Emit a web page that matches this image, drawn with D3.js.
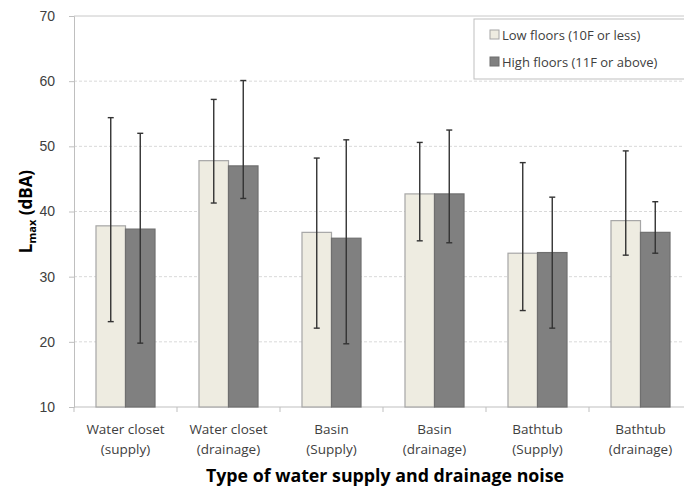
<!DOCTYPE html>
<meta charset="utf-8">
<script src="https://d3js.org/d3.v7.min.js"></script>
<title>Lmax by floor group</title>
<style>
body { margin: 0; background: #fff; font-family: "Open Sans", sans-serif; }
.tick text { fill: #404040; font-size: 13px; }
.grid line { stroke: #d9d9d9; stroke-dasharray: 3,2; }
</style>
<body>
<svg id="chart" width="684" height="488"></svg>
<script>

var categories = [
  ["Water closet", "(supply)"],
  ["Water closet", "(drainage)"],
  ["Basin", "(Supply)"],
  ["Basin", "(drainage)"],
  ["Bathtub", "(Supply)"],
  ["Bathtub", "(drainage)"]
];
var series = ["Low floors (10F or less)", "High floors (11F or above)"];
var lowMean = [37.8, 47.8, 36.8, 42.7, 33.6, 38.6];
var lowErrTop = [54.4, 57.2, 48.2, 50.6, 47.5, 49.3];
var lowErrBot = [23.1, 41.3, 22.1, 35.5, 24.8, 33.3];
var highMean = [37.3, 47.0, 35.9, 42.7, 33.7, 36.8];
var highErrTop = [52.0, 60.1, 51.0, 52.5, 42.2, 41.5];
var highErrBot = [19.8, 42.0, 19.7, 35.2, 22.1, 33.6];
var yTicks = [10, 20, 30, 40, 50, 60, 70];

var fills = ["#eeece1", "#808080"],
    strokes = ["#a6a6a6", "#6f6f6f"];

var svg = d3.select("#chart"),
    plotL = 74, plotR = 692, plotT = 16, plotB = 407;

var idx = d3.range(categories.length);
var x = d3.scaleBand().domain(idx).range([plotL, plotR]).padding(0);
var x1 = d3.scaleBand().domain([0, 1]).range([0, x.bandwidth()])
    .paddingInner(0).paddingOuter(0.745);
var y = d3.scaleLinear().domain([10, 70]).range([plotB, plotT]);

// gridlines
svg.append("g").attr("class", "grid")
  .selectAll("line").data(yTicks.filter(function(d) { return d > 10 && d < 70; }))
  .enter().append("line")
    .attr("x1", plotL).attr("x2", 684)
    .attr("y1", function(d) { return y(d); })
    .attr("y2", function(d) { return y(d); });

// top border
svg.append("line")
  .attr("x1", plotL).attr("x2", 684)
  .attr("y1", y(70)).attr("y2", y(70))
  .attr("stroke", "#c8c8c8");

// y axis
var yAxis = svg.append("g")
  .attr("transform", "translate(" + plotL + ",0)")
  .call(d3.axisLeft(y).tickValues(yTicks).tickSize(5).tickPadding(14));
yAxis.select(".domain").attr("stroke", "#bfbfbf");
yAxis.selectAll(".tick line").attr("stroke", "#bfbfbf");
yAxis.selectAll(".tick text").style("font-size", "14px");

// x axis
var xAxis = svg.append("g")
  .attr("transform", "translate(0," + plotB + ")");
xAxis.append("line")
  .attr("x1", plotL).attr("x2", 684)
  .attr("stroke", "#bfbfbf");
xAxis.selectAll("line.tk").data(d3.range(categories.length + 1))
  .enter().append("line")
    .attr("class", "tk")
    .attr("x1", function(d) { return plotL + d * x.step(); })
    .attr("x2", function(d) { return plotL + d * x.step(); })
    .attr("y1", 0).attr("y2", 5)
    .attr("stroke", "#bfbfbf");

var labels = xAxis.selectAll("text.cat").data(idx)
  .enter().append("text")
    .attr("class", "cat")
    .attr("text-anchor", "middle")
    .attr("fill", "#404040")
    .style("font-size", "13.5px")
    .attr("x", function(d) { return x(d) + x.bandwidth() / 2; });
labels.append("tspan")
  .attr("x", function(d) { return x(d) + x.bandwidth() / 2; })
  .attr("y", 27)
  .text(function(d) { return categories[d][0]; });
labels.append("tspan")
  .attr("x", function(d) { return x(d) + x.bandwidth() / 2; })
  .attr("y", 47)
  .text(function(d) { return categories[d][1]; });

// bars
var rows = [];
idx.forEach(function(i) {
  rows.push({i: i, s: 0, v: lowMean[i], hi: lowErrTop[i], lo: lowErrBot[i]});
  rows.push({i: i, s: 1, v: highMean[i], hi: highErrTop[i], lo: highErrBot[i]});
});

svg.append("g").selectAll("rect").data(rows)
  .enter().append("rect")
    .attr("x", function(d) { return x(d.i) + x1(d.s); })
    .attr("width", x1.bandwidth())
    .attr("y", function(d) { return y(d.v); })
    .attr("height", function(d) { return y(10) - y(d.v); })
    .attr("fill", function(d) { return fills[d.s]; })
    .attr("stroke", function(d) { return strokes[d.s]; })
    .attr("stroke-width", 1.2);

// error bars
var eb = svg.append("g").selectAll("g").data(rows)
  .enter().append("g")
    .attr("stroke", "#333")
    .attr("stroke-width", 1.4);
function cx(d) { return x(d.i) + x1(d.s) + x1.bandwidth() / 2; }
eb.append("line")
  .attr("x1", cx).attr("x2", cx)
  .attr("y1", function(d) { return y(d.hi); })
  .attr("y2", function(d) { return y(d.lo); });
eb.append("line")
  .attr("x1", function(d) { return cx(d) - 3; })
  .attr("x2", function(d) { return cx(d) + 3; })
  .attr("y1", function(d) { return y(d.hi); })
  .attr("y2", function(d) { return y(d.hi); });
eb.append("line")
  .attr("x1", function(d) { return cx(d) - 3; })
  .attr("x2", function(d) { return cx(d) + 3; })
  .attr("y1", function(d) { return y(d.lo); })
  .attr("y2", function(d) { return y(d.lo); });

// y title
var yt = svg.append("text")
  .attr("transform", "translate(32," + ((plotT + plotB) / 2) + ") rotate(-90)")
  .attr("text-anchor", "middle")
  .attr("fill", "#000")
  .style("font-size", "17px")
  .style("font-weight", "bold");
yt.append("tspan").text("L");
yt.append("tspan").attr("dy", 4).style("font-size", "11px").text("max");
yt.append("tspan").attr("dy", -4).text(" (dBA)");

// x title
svg.append("text")
  .attr("x", 385)
  .attr("y", 482)
  .attr("text-anchor", "middle")
  .attr("fill", "#000")
  .style("font-size", "17.8px")
  .style("font-weight", "bold")
  .text("Type of water supply and drainage noise");

// legend
var lg = svg.append("g").attr("transform", "translate(474,19)");
lg.append("rect")
  .attr("width", 215).attr("height", 60)
  .attr("fill", "#fff").attr("stroke", "#bfbfbf");
var li = lg.selectAll("g").data(series)
  .enter().append("g")
    .attr("transform", function(d, i) { return "translate(16," + (16 + i * 27) + ")"; });
li.append("rect")
  .attr("x", 0).attr("y", -5).attr("width", 9).attr("height", 9)
  .attr("fill", function(d, i) { return fills[i]; })
  .attr("stroke", function(d, i) { return strokes[i]; });
li.append("text")
  .attr("x", 12).attr("dy", "0.35em")
  .attr("fill", "#404040")
  .style("font-size", "13px")
  .text(function(d) { return d; });

</script>
</body>
